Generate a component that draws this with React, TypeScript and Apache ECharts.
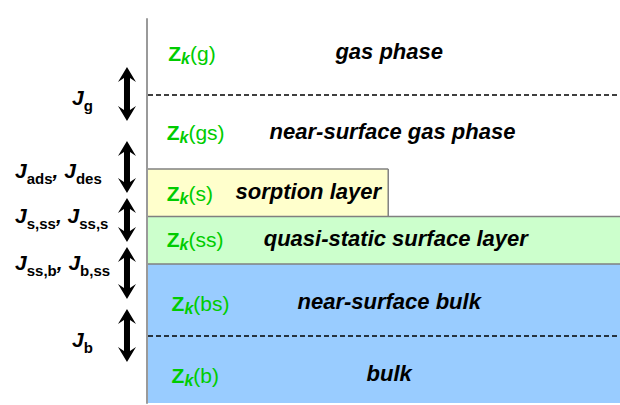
import { useEffect, useRef } from "react";
import * as echarts from "echarts";

// ---- data ----
const layerSymbols = ["g", "gs", "s", "ss", "bs", "b"];
const layerNames = [
  "gas phase",
  "near-surface gas phase",
  "sorption layer",
  "quasi-static surface layer",
  "near-surface bulk",
  "bulk",
];
// depth range of each layer (depth units, 0 = top of diagram)
const layerTop = [0, 76, 150, 197.5, 245, 317];
const layerBottom = [76, 150, 197.5, 245, 317, 384];
// lateral extent of each layer (% of width)
const layerExtent = [100, 100, 51, 100, 100, 100];

// fluxes between layers: subscripts of J, depth range of the double arrow
const fluxSubscripts = [["g"], ["ads", "des"], ["s,ss", "ss,s"], ["ss,b", "b,ss"], ["b"]];
const fluxFrom = [48, 122, 179, 228, 290];
const fluxTo = [102, 174, 223, 280, 343];

// ---- layout / style ----
const FF = "'Liberation Sans', Arial, Helvetica, sans-serif";
const GREEN = "#00cc00";
const layerFill = ["none", "none", "#ffffcc", "#ccffcc", "#99ccff", "#99ccff"];
const layerTopEdge = ["none", "dash", "solid", "solid", "solid", "dash"];
const layerRightEdge = [false, false, true, false, false, false];
const symbolX = [4.5, 4.16, 4.16, 4.16, 5.2, 5.2];
const labelY = [34, 113.5, 174, 220.5, 284, 356];
const nameX = [51.2, 51.9, 34.1, 52.6, 51.2, 51.2];
const fluxX = -4.23;
const fluxLabelX = [-15.86, -27.9, -27.9, -27.9, -15.86];
const fluxLabelY = [78.5, 151, 196, 243, 320.5];

const zRich = {
  Z: { fontSize: 21, fontWeight: "bold", fontFamily: FF, fill: GREEN },
  k: {
    fontSize: 16,
    fontWeight: "bold",
    fontStyle: "italic",
    fontFamily: FF,
    fill: GREEN,
    padding: [10, 0, 0, 0],
  },
  p: { fontSize: 21, fontFamily: FF, fill: GREEN },
};

const jRich = {
  J: { fontSize: 21, fontWeight: "bold", fontStyle: "italic", fontFamily: FF, fill: "#000" },
  s: { fontSize: 15, fontWeight: "bold", fontFamily: FF, fill: "#000", padding: [16, 0, 0, 0] },
};

function fluxText(subs: string[]) {
  return subs.map((s, i) => (i === 0 ? "{J|J}" : "{J|, J}") + "{s|" + s + "}").join("");
}

export default function App() {
  const ref = useRef<HTMLDivElement>(null);
  useEffect(() => {
    if (!ref.current) return;
    const chart = echarts.init(ref.current, null, { renderer: "svg" });

    const layerData = layerSymbols.map((_, i) => [layerTop[i], layerBottom[i], layerExtent[i]]);
    const fluxData = fluxFrom.map((f, i) => [f, fluxTo[i]]);

    chart.setOption({
      animation: false,
      backgroundColor: "#ffffff",
      grid: { left: 147, right: 0, top: 19, bottom: 2 },
      xAxis: { type: "value", min: 0, max: 100, show: false },
      yAxis: {
        type: "value",
        min: 0,
        max: 384,
        inverse: true,
        z: 10,
        axisLine: { show: true, lineStyle: { color: "#9a9a9a", width: 2 } },
        axisTick: { show: false },
        axisLabel: { show: false },
        splitLine: { show: false },
      },
      series: [
        {
          type: "custom",
          silent: true,
          z: 2,
          data: layerData,
          renderItem: (params: any, api: any) => {
            const i = params.dataIndex;
            const top = api.value(0);
            const bottom = api.value(1);
            const ext = api.value(2);
            const p0 = api.coord([0, top]);
            const p1 = api.coord([ext, bottom]);
            const x0 = p0[0] + 1;
            const children: any[] = [];
            if (layerFill[i] !== "none") {
              children.push({
                type: "rect",
                shape: { x: x0, y: p0[1], width: p1[0] - x0, height: p1[1] - p0[1] },
                style: { fill: layerFill[i] },
              });
            }
            if (layerTopEdge[i] === "solid") {
              children.push({
                type: "line",
                shape: { x1: x0, y1: p0[1], x2: p1[0], y2: p0[1] },
                style: { stroke: "#808080", lineWidth: 1.5 },
              });
            } else if (layerTopEdge[i] === "dash") {
              children.push({
                type: "line",
                shape: { x1: x0, y1: p0[1], x2: p1[0], y2: p0[1] },
                style: { stroke: "#000", lineWidth: 1.5, lineDash: [5, 3] },
              });
            }
            if (layerRightEdge[i]) {
              children.push({
                type: "line",
                shape: { x1: p1[0], y1: p0[1], x2: p1[0], y2: p1[1] },
                style: { stroke: "#808080", lineWidth: 1.5 },
              });
            }
            const zp = api.coord([symbolX[i], labelY[i]]);
            children.push({
              type: "text",
              x: zp[0],
              y: zp[1],
              z2: 5,
              style: {
                text: "{Z|Z}{k|k}{p|(" + layerSymbols[i] + ")}",
                rich: zRich,
                align: "left",
                verticalAlign: "middle",
              },
            });
            const np = api.coord([nameX[i], labelY[i] - 1.5]);
            children.push({
              type: "text",
              x: np[0],
              y: np[1],
              z2: 5,
              style: {
                text: layerNames[i],
                fontSize: 22,
                fontWeight: "bold",
                fontStyle: "italic",
                fontFamily: FF,
                fill: "#000",
                align: "center",
                verticalAlign: "middle",
              },
            });
            return { type: "group", children };
          },
        },
        {
          type: "custom",
          silent: true,
          z: 3,
          clip: false,
          data: fluxData,
          renderItem: (params: any, api: any) => {
            const i = params.dataIndex;
            const a = api.coord([fluxX, api.value(0)]);
            const b = api.coord([fluxX, api.value(1)]);
            const cx = a[0];
            const y0 = a[1];
            const y1 = b[1];
            const hw = 9;
            const hh = 15;
            const sw = 3;
            const nb = 11;
            const points = [
              [cx, y0],
              [cx + hw, y0 + hh],
              [cx + sw, y0 + nb],
              [cx + sw, y1 - nb],
              [cx + hw, y1 - hh],
              [cx, y1],
              [cx - hw, y1 - hh],
              [cx - sw, y1 - nb],
              [cx - sw, y0 + nb],
              [cx - hw, y0 + hh],
            ];
            const lp = api.coord([fluxLabelX[i], fluxLabelY[i]]);
            return {
              type: "group",
              children: [
                { type: "polygon", shape: { points }, style: { fill: "#000" } },
                {
                  type: "text",
                  x: lp[0],
                  y: lp[1],
                  style: {
                    text: fluxText(fluxSubscripts[i]),
                    rich: jRich,
                    align: "left",
                    verticalAlign: "middle",
                  },
                },
              ],
            };
          },
        },
      ],
    });
    return () => chart.dispose();
  }, []);
  return (
    <div
      ref={ref}
      style={{ position: "absolute", left: 0, top: 0, width: 620, height: 405, background: "#fff" }}
    />
  );
}
